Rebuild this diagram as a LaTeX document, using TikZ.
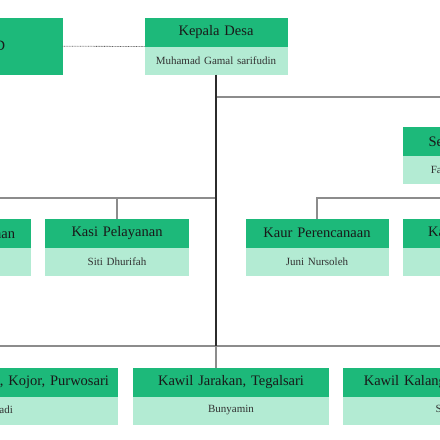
\documentclass[tikz,border=0pt]{standalone}
\usepackage{fontspec}
\setmainfont{Liberation Serif}
\usetikzlibrary{positioning}

\definecolor{hijautua}{HTML}{1DB97A}
\definecolor{hijaumuda}{HTML}{B3EBD3}
\definecolor{garisabu}{HTML}{8C8C8C}
\definecolor{garisgelap}{HTML}{2B2B2B}

\begin{document}
\begin{tikzpicture}[
            x=1pt, y=-1pt,
            node distance=0pt,
            % styles
            jabatan/.style={rectangle, text width=#1, minimum height=28.5pt, inner sep=0pt, outer sep=0pt, fill=hijautua, text=black!90, font=\fontsize{14.5}{16}\selectfont, align=center},
            jabatan/.default=143pt,
            pejabat/.style={rectangle, text width=#1, minimum height=28pt, inner sep=0pt, outer sep=0pt, fill=hijaumuda, text=black!80, font=\fontsize{11}{13}\selectfont, align=center},
            pejabat/.default=143pt,
            garis/.style={draw=garisabu, line width=1.4pt},
            garisutama/.style={draw=garisgelap, line width=1.2pt},
            putus/.style={draw=garisgelap!75, line width=0.8pt, dash pattern=on 0.8pt off 0.8pt}
        ]
        \useasboundingbox (0,0) rectangle (440,440);

        % row 1: BPD and kepala desa
        \node (bpd)    [jabatan, minimum height=56.5pt, anchor=north] at (-9,18) {BPD};
        \node (kades)  [jabatan, anchor=north] at (216,18) {Kepala Desa};
        \node (kades-n) [pejabat, below=of kades] {Muhamad Gamal sarifudin};

        % row 2: sekretaris
        \node (sekdes)  [jabatan, anchor=north] at (474.5,127) {Sekretaris Desa};
        \node (sekdes-n) [pejabat, below=of sekdes] {Fauzan Abdul Aziz};

        % row 3: kasi and kaur
        \node (kasi1)   [jabatan, anchor=north] at (-40.5,219) {Kasi Pemerintahan};
        \node (kasi1-n) [pejabat, below=of kasi1] {Slamet Riyadi};
        \node (kasi2)   [jabatan=144pt, anchor=north] at (117,219) {Kasi Pelayanan};
        \node (kasi2-n) [pejabat=144pt, below=of kasi2] {Siti Dhurifah};
        \node (kaur1)   [jabatan, anchor=north] at (317,219) {Kaur Perencanaan};
        \node (kaur1-n) [pejabat, below=of kaur1] {Juni Nursoleh};
        \node (kaur2)   [jabatan, anchor=north] at (474.5,219) {Kaur Keuangan};
        \node (kaur2-n) [pejabat, below=of kaur2] {Sri Wahyuni};

        % row 4: kawil
        \node (kawil1)   [jabatan=258pt, anchor=north] at (-11,368) {Kawil Krajan, Senoka, Kojor, Purwosari};
        \node (kawil1-n) [pejabat=258pt, below=of kawil1] {Sumaryadi};
        \node (kawil2)   [jabatan=196pt, anchor=north] at (231,368) {Kawil Jarakan, Tegalsari};
        \node (kawil2-n) [pejabat=196pt, below=of kawil2] {Bunyamin};
        \node (kawil3)   [jabatan=222pt, anchor=north] at (454,368) {Kawil Kalangan, Ngasem, Jati};
        \node (kawil3-n) [pejabat=222pt, below=of kawil3] {Suparno};

        % branch points
        \coordinate (simpul-atas)  at (216,97);
        \coordinate (simpul-kasi)  at (216,198);
        \coordinate (simpul-kawil) at (216,346);
        \coordinate (simpul-kaur)  at (sekdes-n.south |- simpul-kasi);

        % connections
        \draw [putus] (bpd.east) -- (kades.south west);
        \draw [garis] (simpul-atas) -| (sekdes.north);
        \draw [garis] (simpul-kasi) -| (kasi1.north);
        \draw [garis] (simpul-kasi) -| (kasi2.north);
        \draw [garis] (sekdes-n.south) -- (simpul-kaur) -| (kaur1.north);
        \draw [garis] (simpul-kaur) -- (kaur2.north);
        \draw [garis] (simpul-kawil) -| (kawil1.north);
        \draw [garis] (simpul-kawil) -| (kawil3.north);
        \draw [garis] (simpul-kawil) -- (simpul-kawil |- kawil2.north);
        \draw [garisutama] (kades-n.south) -- (simpul-kawil);

        \end{tikzpicture}
\end{document}
